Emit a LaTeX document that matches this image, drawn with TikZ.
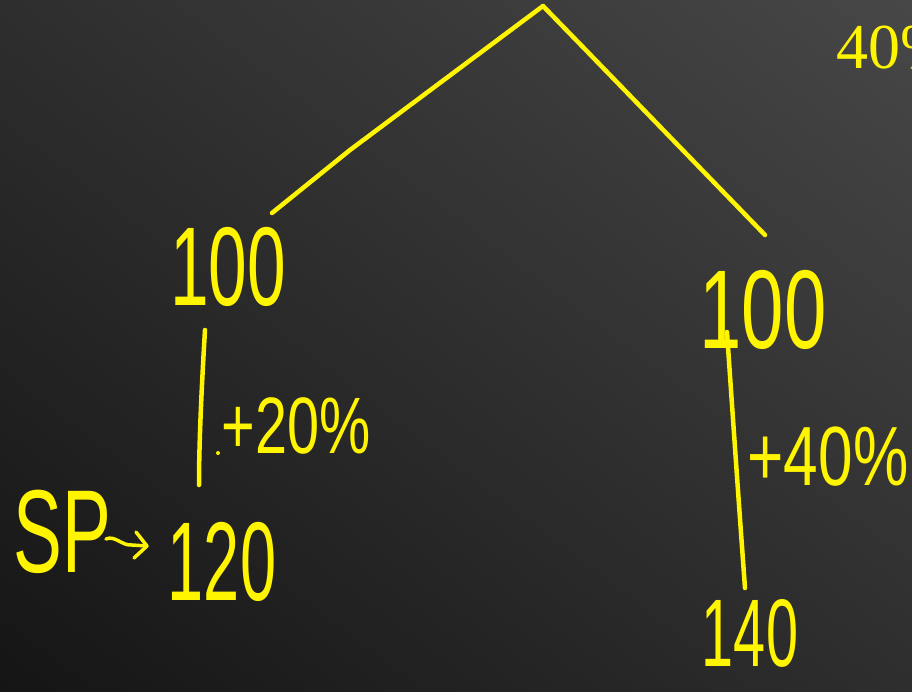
\documentclass[tikz,border=0pt]{standalone}
\usepackage{fontspec}
\setmainfont{Liberation Sans}
\newfontfamily\serifnum{Liberation Serif}
\usetikzlibrary{arrows.meta,shadings}
\definecolor{ink}{HTML}{FFF500}
\definecolor{bgdark}{HTML}{151515}
\definecolor{bgmid}{HTML}{2E2E2E}
\definecolor{bglight}{HTML}{474747}
\tikzset{
  hand/.style={text=ink, inner sep=0pt, outer sep=0pt},
  stroke/.style={draw=ink, line width=4.5pt, line cap=round, line join=round},
}
\begin{document}
\begin{tikzpicture}[x=1pt,y=-1pt]
\useasboundingbox (0,0) rectangle (912,691);
\shade[lower left=bgdark, upper right=bglight, upper left=bgmid, lower right=bgmid]
  (0,0) rectangle (912,691);

% nodes
\node[hand, xscale=0.62, font=\fontsize{112}{112}\selectfont] (l100) at (228,267) {100};
\node[hand, xscale=0.72, font=\fontsize{80}{80}\selectfont] (p20) at (296,426) {+20\%};
\node[hand, xscale=0.62, font=\fontsize{118}{118}\selectfont] (sp) at (62,532) {SP};
\node[hand, xscale=0.58, font=\fontsize{112}{112}\selectfont] (l120) at (222,562) {120};
\node[hand, xscale=0.68, font=\fontsize{112}{112}\selectfont] (r100) at (763,310) {100};
\node[hand, xscale=0.74, font=\fontsize{84}{84}\selectfont] (p40) at (828,457) {+40\%};
\node[hand, xscale=0.6, font=\fontsize{96}{96}\selectfont] (r140) at (750,633) {140};

\begin{scope}
\clip (0,0) rectangle (912,691);
% top-right label, cut off by the edge as in the reference
\node[hand, anchor=base west, font=\serifnum\fontsize{64}{64}\selectfont] (pct) at (836,68) {40\%};

% connector ends
\coordinate (apex) at (543,6);
\coordinate (la) at (272,213);
\coordinate (ra) at (765,235);
\coordinate (lvtop) at (205,330);
\coordinate (lvbot) at (199,485);
\coordinate (rvtop) at (727,332);
\coordinate (rvbot) at (745,588);
\coordinate (arrs) at (106,539);
\coordinate (arre) at (147,546);

% tree lines
\draw[stroke] (la) -- (350,150) -- (apex);
\draw[stroke] (apex) -- (578,42) -- (ra);
% vertical steps
\draw[stroke] (lvtop) .. controls (202,380) and (199,440) .. (lvbot);
\fill[ink] (218,453) circle (2pt);
\draw[stroke] (rvtop) .. controls (733,420) and (740,520) .. (rvbot);
% SP arrow
\draw[stroke, line width=3.5pt] (arrs) .. controls (115,535) and (122,546) .. (132,545) -- (arre);
\draw[stroke, line width=3.5pt] (136,532) -- (arre) -- (134,558);
\end{scope}
\end{tikzpicture}
\end{document}
